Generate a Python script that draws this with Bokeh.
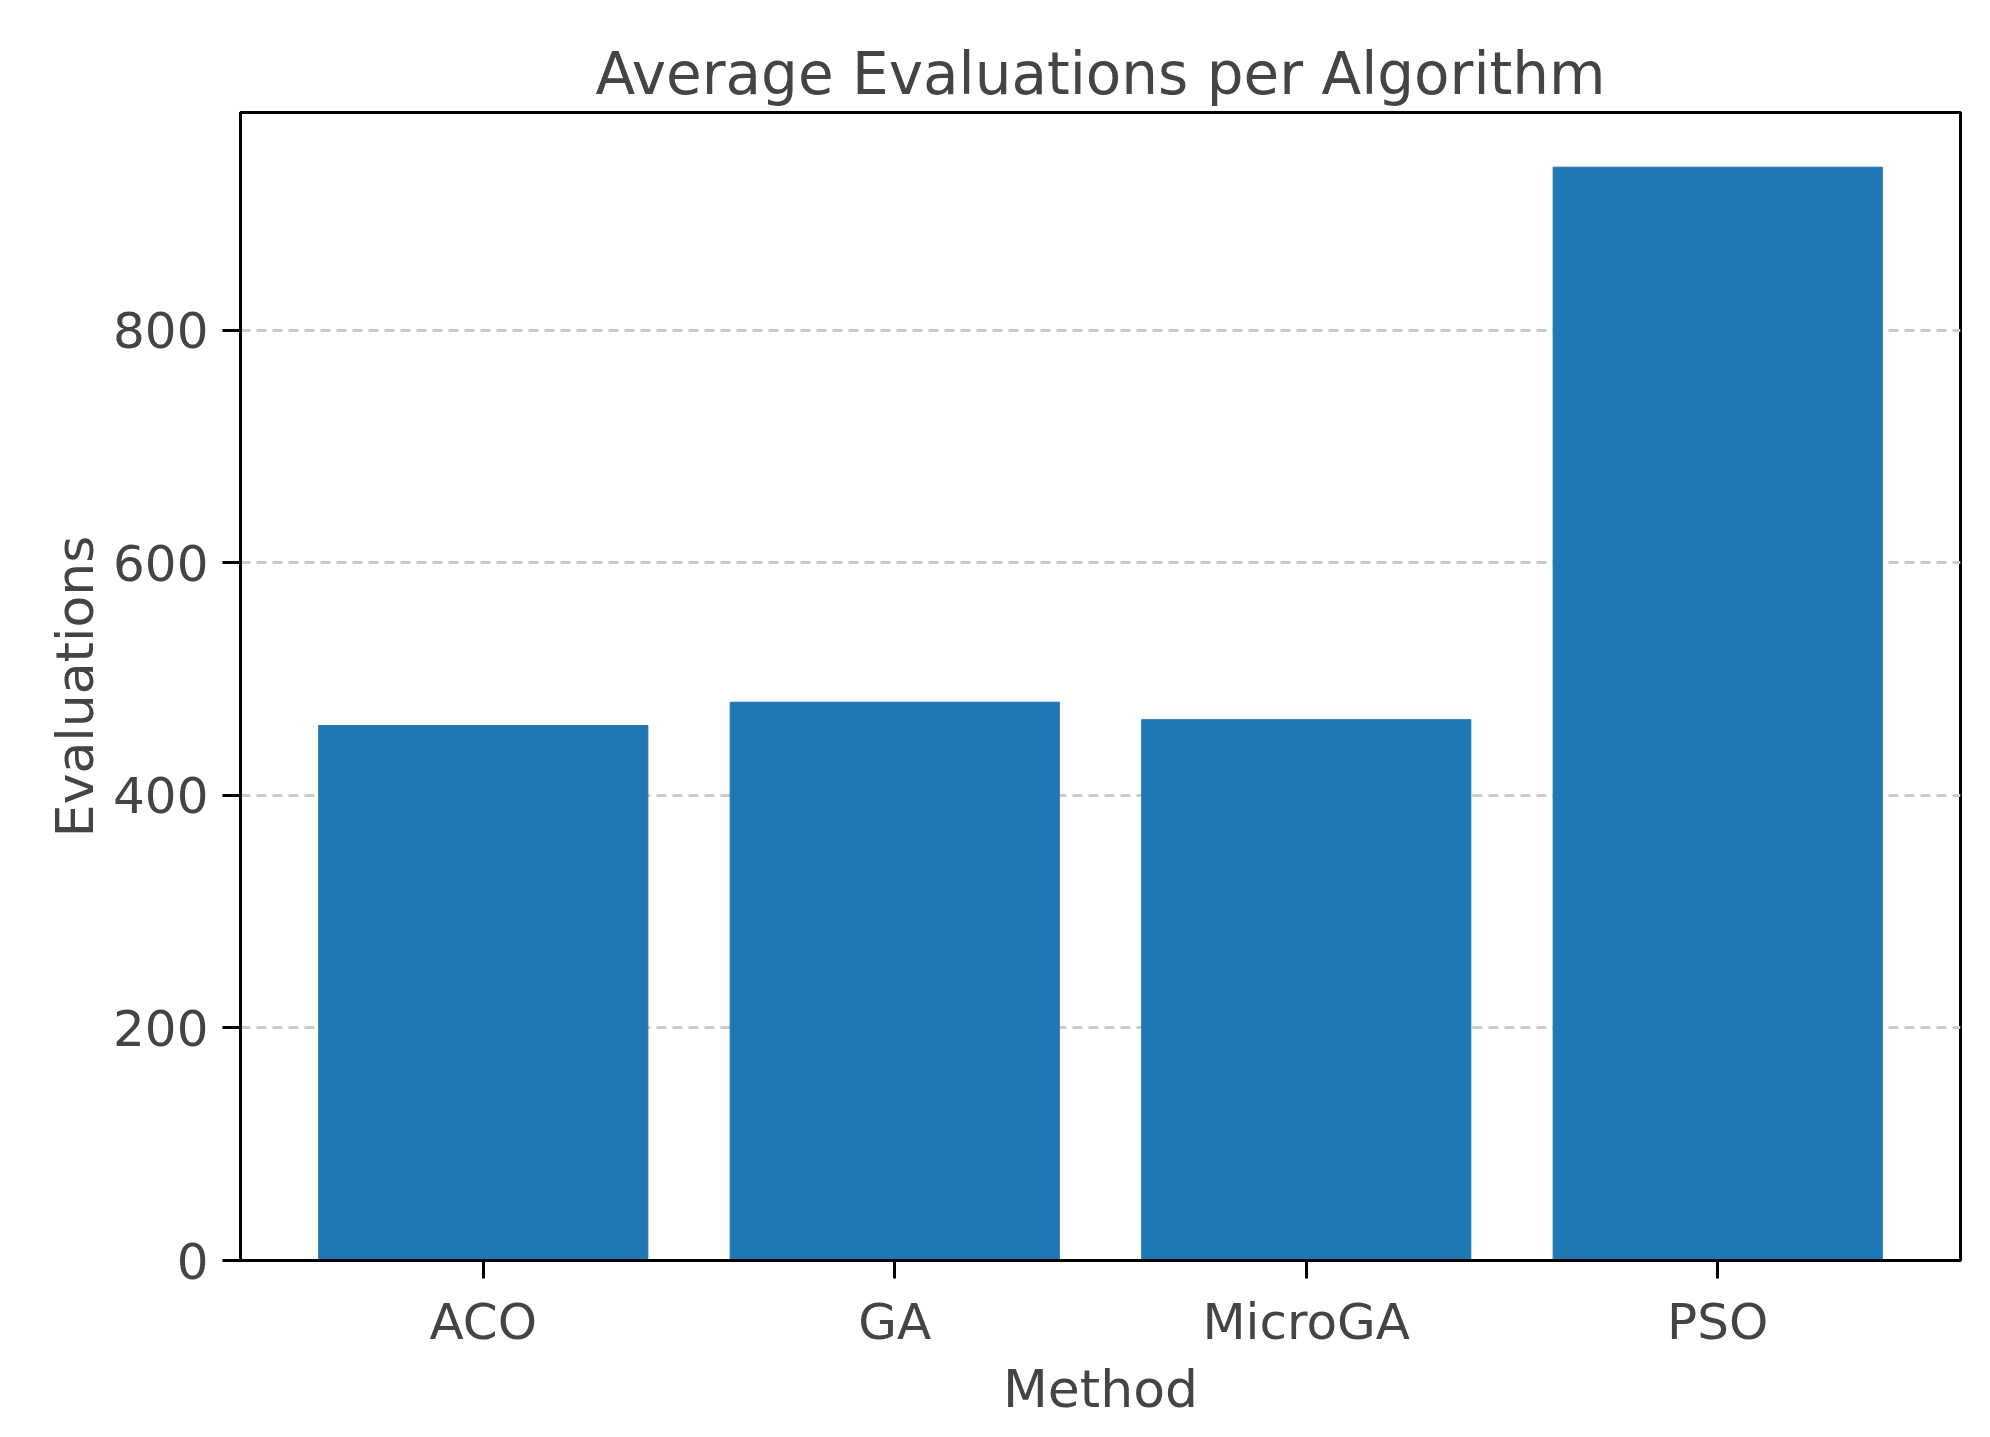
from bokeh.plotting import figure
from bokeh.models import Range1d, FixedTicker
from bokeh.embed import file_html
from bokeh.resources import INLINE

methods = ["ACO", "GA", "MicroGA", "PSO"]
evaluations = [460, 480, 465, 940]
xs = list(range(len(methods)))

p = figure(width=1974, height=1421, output_backend="svg", toolbar_location=None,
           x_range=Range1d(-0.59, 3.59), y_range=Range1d(0, 987),
           min_border_left=240, min_border_right=14, min_border_top=112, min_border_bottom=150)
p.vbar(x=xs, top=evaluations, width=0.8, color="#1f77b4")

p.title.text = "Average Evaluations per Algorithm"
p.title.align = "center"
p.title.text_font = "DejaVu Sans"
p.title.text_font_size = "58px"
p.title.text_font_style = "normal"

p.xaxis.ticker = FixedTicker(ticks=xs)
p.xaxis.major_label_overrides = {i: m for i, m in enumerate(methods)}
p.yaxis.ticker = FixedTicker(ticks=[0, 200, 400, 600, 800])
p.xaxis.axis_label = "Method"
p.yaxis.axis_label = "Evaluations"
for ax in (p.xaxis, p.yaxis):
    ax.axis_label_text_font = "DejaVu Sans"
    ax.axis_label_text_font_size = "52px"
    ax.axis_label_text_font_style = "normal"
    ax.major_label_text_font = "DejaVu Sans"
    ax.major_label_text_font_size = "50px"
    ax.axis_line_width = 3
    ax.major_tick_line_width = 3
    ax.major_tick_out = 18
    ax.major_tick_in = 0
    ax.minor_tick_line_color = None
    ax.major_label_standoff = 14
p.yaxis.major_label_orientation = "horizontal"

p.xgrid.grid_line_color = None
p.ygrid.grid_line_color = "#cccccc"
p.ygrid.grid_line_dash = "10 6"
p.ygrid.grid_line_width = 3
p.outline_line_color = "black"
p.outline_line_width = 3

open("out.html", "w").write(file_html(p, INLINE))
